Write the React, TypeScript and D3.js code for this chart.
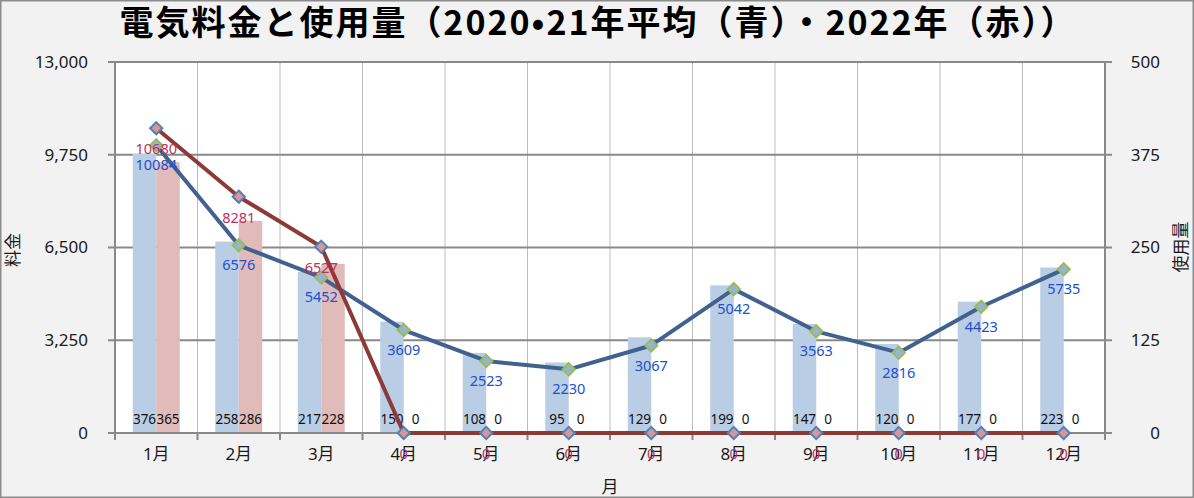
import React, { useEffect, useRef } from 'react';
import * as d3 from 'd3';

// ---- data ----
const months = ['1月', '2月', '3月', '4月', '5月', '6月', '7月', '8月', '9月', '10月', '11月', '12月'];
const usageAvg = [376, 258, 217, 150, 108, 95, 129, 199, 147, 120, 177, 223];
const usage2022 = [365, 286, 228, 0, 0, 0, 0, 0, 0, 0, 0, 0];
const costAvg = [10084, 6576, 5452, 3609, 2523, 2230, 3067, 5042, 3563, 2816, 4423, 5735];
const cost2022 = [10680, 8281, 6527, 0, 0, 0, 0, 0, 0, 0, 0, 0];
const costTicks = [0, 3250, 6500, 9750, 13000];
const usageTicks = [0, 125, 250, 375, 500];

const W = 1194;
const H = 498;
const FONT = "'Noto Sans', 'Noto Sans CJK JP', sans-serif";
const CJK = "'Noto Sans CJK JP', sans-serif";

const App: React.FC = () => {
  const ref = useRef<SVGSVGElement>(null);

  useEffect(() => {
    if (!ref.current) return;
    const svg = d3.select(ref.current);
    svg.selectAll('*').remove();

    const left = 115, right = 1105, top = 62, bottom = 433;

    const x = d3.scaleBand<string>().domain(months).range([left, right]).padding(0);
    const xc = (m: string) => (x(m) as number) + x.bandwidth() / 2;
    const xSub = d3.scaleBand<string>().domain(['avg', '2022']).range([-23.5, 23.5]).padding(0);
    const yCost = d3.scaleLinear().domain([0, 13000]).range([bottom, top]);
    const yUse = d3.scaleLinear().domain([0, 500]).range([bottom, top]);

    // background + frame
    svg.append('rect').attr('x', 0.75).attr('y', 0.75).attr('width', W - 1.5).attr('height', H - 1.5)
      .attr('fill', '#f2f2f2').attr('stroke', '#8c8c8c').attr('stroke-width', 1.5);
    svg.append('rect').attr('x', left).attr('y', top).attr('width', right - left).attr('height', bottom - top)
      .attr('fill', '#ffffff');

    // vertical grid
    const g = svg.append('g');
    months.slice(1).forEach(m => {
      g.append('line').attr('x1', x(m) as number).attr('x2', x(m) as number)
        .attr('y1', top).attr('y2', bottom).attr('stroke', '#bdbdbd').attr('stroke-width', 1);
    });
    // horizontal grid
    costTicks.slice(1).forEach(t => {
      g.append('line').attr('x1', left - 7).attr('x2', right + 7)
        .attr('y1', yCost(t)).attr('y2', yCost(t)).attr('stroke', '#898989').attr('stroke-width', 2);
    });

    // bars (usage, right axis)
    const bars = svg.append('g');
    months.forEach((m, i) => {
      const cx = xc(m);
      bars.append('rect').attr('x', cx + (xSub('avg') as number)).attr('width', xSub.bandwidth())
        .attr('y', yUse(usageAvg[i])).attr('height', bottom - yUse(usageAvg[i])).attr('fill', '#b9cde5');
      bars.append('rect').attr('x', cx + (xSub('2022') as number)).attr('width', xSub.bandwidth())
        .attr('y', yUse(usage2022[i])).attr('height', bottom - yUse(usage2022[i])).attr('fill', '#e0bbba');
    });

    // axes
    const ax = svg.append('g').attr('stroke', '#898989').attr('stroke-width', 2);
    ax.append('line').attr('x1', left).attr('x2', left).attr('y1', top).attr('y2', bottom + 1);
    ax.append('line').attr('x1', right).attr('x2', right).attr('y1', top).attr('y2', bottom + 1);
    ax.append('line').attr('x1', left - 7).attr('x2', right + 7).attr('y1', bottom).attr('y2', bottom);
    [...months.map(m => x(m) as number), right].forEach(px => {
      ax.append('line').attr('x1', px).attr('x2', px).attr('y1', bottom).attr('y2', bottom + 7);
    });

    // tick labels
    svg.append('g').selectAll('text').data(costTicks).enter().append('text')
      .attr('x', 88).attr('y', d => yCost(d)).attr('dy', '0.35em').attr('text-anchor', 'end')
      .attr('font-family', FONT).attr('font-size', 17).attr('fill', '#1a1a1a')
      .text(d => d3.format(',')(d));
    svg.append('g').selectAll('text').data(usageTicks).enter().append('text')
      .attr('x', 1160).attr('y', d => yUse(d)).attr('dy', '0.35em').attr('text-anchor', 'end')
      .attr('font-family', FONT).attr('font-size', 17).attr('fill', '#1a1a1a')
      .text(d => String(d));
    svg.append('g').selectAll('text').data(months).enter().append('text')
      .attr('x', d => xc(d)).attr('y', 454).attr('dy', '0.35em').attr('text-anchor', 'middle')
      .attr('font-family', FONT).attr('font-size', 17).attr('fill', '#1a1a1a')
      .text(d => d);

    // axis titles
    svg.append('text').attr('transform', 'translate(13,250) rotate(-90)').attr('text-anchor', 'middle')
      .attr('dy', '0.35em').attr('font-family', CJK).attr('font-size', 17).attr('fill', '#1a1a1a').text('料金');
    svg.append('text').attr('transform', 'translate(1181,247) rotate(-90)').attr('text-anchor', 'middle')
      .attr('dy', '0.35em').attr('font-family', CJK).attr('font-size', 17).attr('fill', '#1a1a1a').text('使用量');
    svg.append('text').attr('x', 610).attr('y', 487).attr('dy', '0.35em').attr('text-anchor', 'middle')
      .attr('font-family', CJK).attr('font-size', 17).attr('fill', '#1a1a1a').text('月');

    // title
    svg.append('text').attr('x', 597).attr('y', 23).attr('dy', '0.35em').attr('text-anchor', 'middle')
      .attr('font-family', CJK).attr('font-weight', 'bold').attr('font-size', 34).attr('fill', '#000')
      .attr('textLength', 955).attr('lengthAdjust', 'spacing')
      .text('電気料金と使用量（2020•21年平均（青）・2022年（赤））');

    // bar value labels
    const bl = svg.append('g').attr('font-family', FONT).attr('font-size', 13.5).attr('fill', '#111')
      .attr('text-anchor', 'middle');
    months.forEach((m, i) => {
      const cx = xc(m);
      bl.append('text').attr('x', cx + (xSub('avg') as number) + xSub.bandwidth() / 2).attr('y', 419)
        .attr('dy', '0.35em').text(usageAvg[i]);
      bl.append('text').attr('x', cx + (xSub('2022') as number) + xSub.bandwidth() / 2).attr('y', 419)
        .attr('dy', '0.35em').text(usage2022[i]);
    });

    // lines
    const line = d3.line<number>().x((_, i) => xc(months[i])).y(d => yCost(d));
    const diamond = d3.symbol().type(d3.symbolDiamond2).size(95);

    const drawSeries = (vals: number[], stroke: string, mFill: string, mStroke: string) => {
      svg.append('path').datum(vals).attr('d', line).attr('fill', 'none')
        .attr('stroke', stroke).attr('stroke-width', 4).attr('stroke-linejoin', 'round');
      svg.append('g').selectAll('path').data(vals).enter().append('path')
        .attr('d', diamond)
        .attr('transform', (d, i) => `translate(${xc(months[i])},${yCost(d)})`)
        .attr('fill', mFill).attr('stroke', mStroke).attr('stroke-width', 2);
    };
    drawSeries(costAvg, '#41618f', '#95b3d7', '#9bbb59');
    drawSeries(cost2022, '#8c3a36', '#d99694', '#4f81bd');

    // line labels
    const ll = svg.append('g').attr('font-family', FONT).attr('font-size', 14.5).attr('text-anchor', 'middle');
    costAvg.forEach((v, i) => {
      ll.append('text').attr('x', xc(months[i])).attr('y', yCost(v) + 20).attr('dy', '0.35em')
        .attr('fill', '#2050d0').text(v);
    });
    cost2022.forEach((v, i) => {
      ll.append('text').attr('x', xc(months[i])).attr('y', yCost(v) + 21).attr('dy', '0.35em')
        .attr('fill', '#be3060').text(v);
    });
  }, []);

  return (
    <svg ref={ref} width={W} height={H} viewBox={`0 0 ${W} ${H}`}
      style={{ position: 'absolute', left: 0, top: 0, display: 'block' }} />
  );
};

export default App;
